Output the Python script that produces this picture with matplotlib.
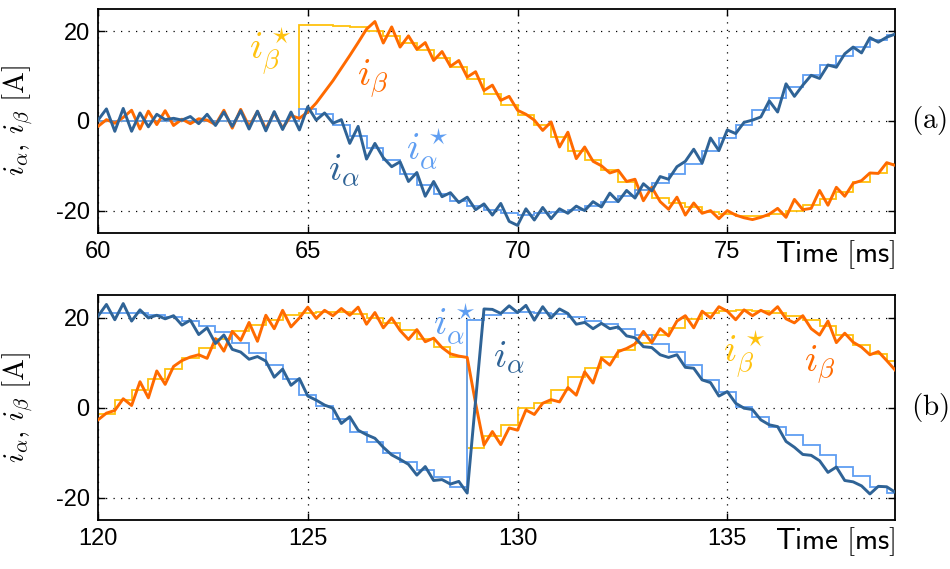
import matplotlib
matplotlib.use("Agg")
import matplotlib.pyplot as plt
import numpy as np

plt.rcParams["mathtext.fontset"] = "cm"
plt.rcParams["axes.unicode_minus"] = False
plt.rcParams["font.family"] = ["Liberation Sans", "DejaVu Sans"]

C_IA = "#2f6396"
C_IA_REF = "#5f9ef2"
C_IB = "#ff6a00"
C_IB_REF = "#ffc20e"

MEAS_DT = 0.2   # ms between measured samples
REF_DT = 0.4    # ms between reference updates

# ---- panel (a): 60 .. 79 ms ----
t0_a = 60.0
i_beta_a = [
    -1.2, 0.3, -0.5, 0.8, 2.4, -1.8, 2.2, -0.8, 2.3, -1.0,
    0.4, -0.6, 0.5, 0.2, -0.8, 2.4, -1.6, 2.6, -1.2, 2.1,
    -1.8, 1.9, -1.6, 1.2, 0.6,
    2.0, 4.0, 6.5, 9.0, 11.8, 14.6, 17.5, 20.5, 22.2, 17.4,
    21.0, 16.5, 19.0, 16.0, 17.5, 13.5, 15.5, 12.2, 13.5, 9.8,
    11.0, 6.8, 8.0, 4.6, 5.5,
    2.4, 1.5, 0.2, -2.1, -0.2, -5.8, -2.5, -8.4, -5.8, -9.0,
    -10.0, -11.6, -11.0, -13.5, -13.0, -17.8, -14.8, -18.0, -19.7, -17.0,
    -21.0, -18.3, -20.6, -20.0, -21.8,
    -20.0, -21.0, -21.6, -22.0, -21.5, -20.8, -19.5, -21.5, -17.5, -19.8,
    -19.5, -15.5, -18.8, -14.8, -16.8, -13.9, -13.3, -11.6, -11.7, -9.3,
    -9.9,
]
i_alpha_a = [
    0.2, 2.7, -2.3, 2.8, -2.3, 1.8, -1.3, 1.5, 0.3, 0.6,
    0.2, 1.0, -0.6, 1.5, -1.0, 2.0, -1.2, 2.3, -1.8, 2.2,
    -2.2, 2.1, -1.9, 2.0, -2.0,
    3.2, 0.2, 1.8, -0.5, 0.3, -5.0, -1.2, -8.5, -5.0, -8.2,
    -10.2, -9.1, -13.5, -11.5, -16.8, -13.5, -16.9, -16.0, -18.2, -17.0,
    -19.8, -18.5, -21.0, -18.4, -22.4,
    -23.3, -19.6, -22.1, -19.3, -21.8, -19.6, -20.6, -19.0, -20.0, -18.0,
    -19.2, -16.1, -18.0, -15.5, -17.2, -14.0, -15.6, -12.4, -13.0, -10.2,
    -9.0, -6.3, -9.4, -3.8, -6.6,
    -2.0, -2.8, -0.3, 0.2, 0.9, 4.5, 2.0, 8.3, 5.5, 8.0,
    10.2, 9.5, 12.5, 12.0, 15.0, 16.5, 15.2, 18.6, 17.6, 18.7,
    19.4,
]
i_beta_ref_a = [
    0, 0, 0, 0, 0, 0, 0, 0, 0, 0, 0, 0,
    21.4, 21.4, 21.3, 20.9, 20.0, 19.0, 17.5, 15.8, 14.0, 12.0,
    9.3, 6.0, 3.5, 1.3, -0.8, -3.6, -6.6, -8.8, -11.0, -13.6,
    -15.4, -17.2, -18.4, -19.3, -20.2, -20.7, -21.2, -21.3, -20.7, -20.0,
    -18.8, -17.4, -15.8, -13.6, -11.6, -9.5,
]
i_alpha_ref_a = [
    0, 0, 0, 0, 0, 0, 0, 0, 0, 0, 0, 0,
    2.6, 1.5, -1.0, -3.4, -6.0, -8.8, -11.8, -14.3, -16.3, -17.8,
    -19.0, -19.8, -20.6, -20.9, -20.6, -20.3, -19.8, -19.0, -18.0, -16.8,
    -15.4, -13.8, -11.8, -9.5, -6.8, -3.8, -0.8, 2.4, 5.2, 7.6,
    10.2, 12.4, 14.6, 16.5, 18.0, 19.3,
]

# ---- panel (b): 120 .. 139 ms ----
t0_b = 120.0
i_beta_b = [
    -2.7, -1.2, -0.6, 2.0, 0.5, 5.8, 2.2, 8.2, 5.2, 9.2,
    10.5, 11.3, 11.8, 11.0, 15.4, 12.6, 17.0, 15.0, 19.0, 14.8,
    20.6, 17.6, 21.7, 18.0, 20.0,
    22.4, 19.9, 21.7, 20.5, 22.1, 20.6, 22.4, 18.6, 21.2, 17.8,
    20.0, 17.2, 15.2, 17.4, 14.7, 15.5, 13.4, 12.0, 11.5, 11.2,
    1.0, -8.3, -5.3, -8.2, -4.5,
    -5.0, -0.5, -1.5, 1.0, 1.8, 1.3, 4.5, 2.8, 8.0, 5.5,
    11.0, 9.5, 12.5, 13.2, 14.2, 17.0, 14.5, 17.6, 16.0, 19.3,
    20.5, 17.8, 21.5, 20.0, 22.5,
    21.5, 19.6, 21.8, 20.5, 21.7, 20.8, 22.5, 19.8, 18.9, 20.5,
    17.6, 16.2, 19.3, 14.5, 16.6, 14.6, 13.5, 11.8, 12.5, 10.5,
    8.4,
]
i_alpha_b = [
    20.4, 23.0, 19.6, 23.2, 19.3, 21.8, 20.0, 20.6, 19.8, 20.5,
    18.4, 19.5, 16.3, 17.8, 14.3, 16.2, 13.0, 12.4, 10.8, 11.4,
    10.4, 6.8, 8.6, 5.0, 6.5,
    2.6, 1.7, 0.6, -0.1, -3.5, -2.0, -5.0, -6.0, -6.8, -8.8,
    -10.5, -11.5, -12.6, -15.0, -13.1, -16.2, -16.0, -17.0, -16.4, -19.0,
    1.6, 22.0, 21.9, 21.0, 22.7,
    21.2, 22.8, 19.5, 22.5, 20.0, 22.0, 21.0, 18.6, 19.0, 17.6,
    18.8, 17.6, 18.0, 16.0, 15.6, 13.6, 13.4, 11.8, 11.2, 11.8,
    9.0, 8.8, 6.2, 5.6, 2.6,
    3.6, 1.0, -0.1, -0.4, -2.7, -3.8, -4.2, -7.5, -8.8, -10.4,
    -10.6, -11.8, -14.4, -13.2, -16.2, -16.5, -17.4, -19.2, -17.5, -17.6,
    -18.8,
]
i_beta_ref_b = [
    -1.3, 1.7, 3.9, 6.5, 8.7, 11.0, 13.2, 15.4, 17.0, 18.5,
    19.6, 20.6, 21.1, 21.4, 21.3, 20.8, 19.9, 18.8, 17.3, 15.4,
    13.6, 11.3, -9.0, -6.4, -3.9, -0.1, 1.0, 3.9, 6.9, 8.9,
    11.3, 12.8, 14.5, 16.2, 17.8, 19.8, 21.0, 21.5, 21.7, 21.6,
    21.2, 20.5, 19.5, 18.2, 16.3, 14.0, 11.9, 10.5,
]
i_alpha_ref_b = [
    21.2, 21.2, 21.0, 20.6, 20.2, 19.4, 18.2, 16.8, 14.4, 12.2,
    9.6, 6.4, 2.8, 0.5, -2.4, -5.3, -7.6, -10.0, -12.0, -13.9,
    -15.4, -17.6, 19.5, 20.6, 21.2, 21.3, 21.2, 20.8, 20.2, 19.4,
    18.7, 17.6, 16.1, 14.3, 12.4, 9.5, 6.2, 3.6, 0.2, -2.0,
    -4.2, -6.1, -8.3, -10.5, -13.1, -15.3, -17.6, -19.0,
]

xticks_a = [60, 65, 70, 75]
xticks_b = [120, 125, 130, 135]
yticks = [-20, 0, 20]

# (text, colour, x, y) for the in-plot series labels
labels_a = [
    (r"$i_\beta^\star$", C_IB_REF, 64.1, 15.5),
    (r"$i_\beta$", C_IB, 66.55, 9.5),
    (r"$i_\alpha^\star$", C_IA_REF, 67.85, -6.3),
    (r"$i_\alpha$", C_IA, 65.85, -11.2),
]
labels_b = [
    (r"$i_\alpha^\star$", C_IA_REF, 128.5, 18.6),
    (r"$i_\alpha$", C_IA, 129.8, 11.2),
    (r"$i_\beta^\star$", C_IB_REF, 135.4, 11.9),
    (r"$i_\beta$", C_IB, 137.2, 9.7),
]


def _panel(ax, t0, ia, ib, ia_ref, ib_ref, xticks, tag, labels):
    t = t0 + MEAS_DT * np.arange(len(ia))
    edges = t0 + REF_DT * np.arange(len(ia_ref) + 1)
    ax.stairs(ib_ref, edges, baseline=None, color=C_IB_REF, lw=1.3, zorder=2)
    ax.stairs(ia_ref, edges, baseline=None, color=C_IA_REF, lw=1.3, zorder=2)
    ax.plot(t, ib, color=C_IB, lw=2.1, zorder=3)
    ax.plot(t, ia, color=C_IA, lw=2.1, zorder=4)

    ax.set_xlim(t0, t0 + 19)
    ax.set_ylim(-25, 25)
    ax.set_xticks(xticks)
    ax.set_yticks(yticks)
    ax.grid(True, color="k", linestyle=(0, (1, 5)), lw=0.9)
    ax.tick_params(direction="in", top=True, right=True, length=5, width=1,
                   labelsize=17, pad=6)
    for s in ax.spines.values():
        s.set_linewidth(1.3)

    ax.set_ylabel(r"$i_\alpha,\, i_\beta\ [\mathrm{A}]$", fontsize=21)
    ax.yaxis.set_label_coords(-0.078, 0.5)
    ax.text(1.0, -0.098, r"$\mathsf{Time\ [ms]}$", transform=ax.transAxes,
            ha="right", va="center", fontsize=21)
    ax.text(1.02, 0.5, tag, transform=ax.transAxes, ha="left", va="center",
            fontsize=21)
    for txt, col, x, y in labels:
        ax.text(x, y, txt, color=col, fontsize=28, ha="center", va="center")


fig = plt.figure(figsize=(9.5, 5.69), dpi=100)
ax_a = fig.add_axes([0.1032, 0.5905, 0.839, 0.3937])
ax_b = fig.add_axes([0.1032, 0.0861, 0.839, 0.3946])
_panel(ax_a, t0_a, i_alpha_a, i_beta_a, i_alpha_ref_a, i_beta_ref_a,
       xticks_a, r"$\mathrm{(a)}$", labels_a)
_panel(ax_b, t0_b, i_alpha_b, i_beta_b, i_alpha_ref_b, i_beta_ref_b,
       xticks_b, r"$\mathrm{(b)}$", labels_b)
fig.savefig("out.png", dpi=100)
